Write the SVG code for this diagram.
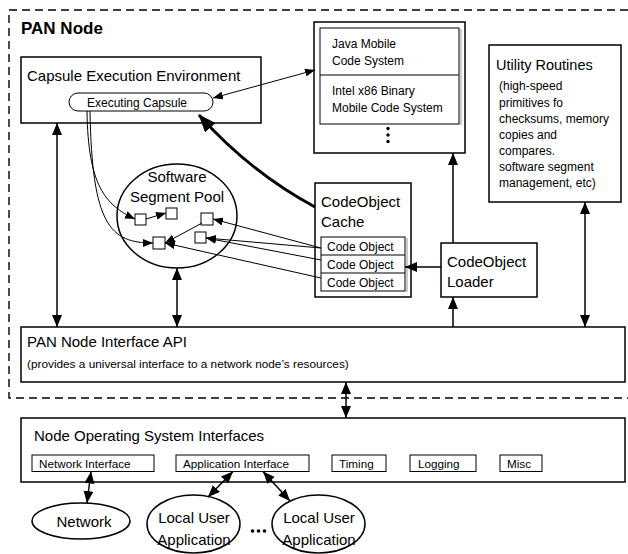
<svg xmlns="http://www.w3.org/2000/svg" width="628" height="554" viewBox="0 0 628 554">
  <style>
    text { font-family: "Liberation Sans", Arial, sans-serif; fill: #000; }
    .box { fill: #fff; stroke: #000; stroke-width: 1.5; }
    .inner { fill: #fff; stroke: #000; stroke-width: 1; }
    .shade { stroke: #9a9a9a; stroke-width: 1; }
    .dash { fill: none; stroke: #000; stroke-width: 1.4; stroke-dasharray: 8 5; }
    .title { font-size: 15px; }
    .t12 { font-size: 12px; }
    .tsub { font-size: 11.7px; }
    .wire { fill: none; stroke: #000; stroke-width: 1; }
    .bus { fill: none; stroke: #000; stroke-width: 1.5; }
    .heavy { fill: none; stroke: #000; stroke-width: 2.8; }
  </style>
  <defs>
    <marker id="big" markerUnits="userSpaceOnUse" markerWidth="12" markerHeight="12" refX="12" refY="5" orient="auto-start-reverse">
      <path d="M0,0 L12,5 L0,10 z" fill="#000"/>
    </marker>
    <marker id="small" markerUnits="userSpaceOnUse" markerWidth="10" markerHeight="8" refX="10" refY="4" orient="auto-start-reverse">
      <path d="M0,0 L10,4 L0,8 z" fill="#000"/>
    </marker>
    <marker id="heavyHead" markerUnits="userSpaceOnUse" markerWidth="18" markerHeight="14" refX="17" refY="7" orient="auto">
      <path d="M0,0 L18,7 L0,14 z" fill="#000"/>
    </marker>
  </defs>

  <rect width="628" height="554" fill="#fff"/>

  <!-- PAN node boundary -->
  <g id="pan-boundary">
    <path class="dash" d="M628,10 H9 V398 H628"/>
    <text x="21" y="34" font-size="17" font-weight="bold">PAN Node</text>
  </g>

  <g id="capsule-env">
    <rect class="box" x="21" y="57" width="240" height="66"/>
    <text class="title" x="27" y="81">Capsule Execution Environment</text>
  </g>

  <g id="executing-capsule">
    <rect class="inner" x="69" y="93" width="144" height="18" rx="9" ry="9"/>
    <text class="t12" x="137" y="106.5" text-anchor="middle">Executing Capsule</text>
  </g>

  <g id="code-systems">
    <rect class="box" x="314" y="22" width="151" height="131"/>
    <rect class="inner" x="320" y="28" width="139" height="96"/>
    <line class="shade" x1="461" y1="29" x2="461" y2="125"/>
    <line x1="320" y1="75" x2="459" y2="75" stroke="#000" stroke-width="1"/>
    <text class="t12" x="332" y="48">Java Mobile</text>
    <text class="t12" x="332" y="65">Code System</text>
    <text class="t12" x="332" y="95">Intel x86 Binary</text>
    <text class="t12" x="332" y="112">Mobile Code System</text>
    <circle cx="388" cy="128.5" r="1.7"/>
    <circle cx="388" cy="135" r="1.7"/>
    <circle cx="388" cy="141.5" r="1.7"/>
  </g>

  <g id="utility-routines">
    <rect class="box" x="489" y="45" width="132" height="157"/>
    <text x="496" y="70" font-size="14.5">Utility Routines</text>
    <text class="t12" x="499" y="90">(high-speed</text>
    <text class="t12" x="499" y="106.5">primitives fo</text>
    <text class="t12" x="499" y="122.5">checksums, memory</text>
    <text class="t12" x="499" y="138.5">copies and</text>
    <text class="t12" x="499" y="154.5">compares.</text>
    <text class="t12" x="499" y="170.5">software segment</text>
    <text class="t12" x="499" y="187">management, etc)</text>
  </g>

  <g id="segment-pool">
    <ellipse class="box" cx="177" cy="216" rx="60" ry="52"/>
    <text class="title" x="177" y="182" text-anchor="middle">Software</text>
    <text class="title" x="177" y="202" text-anchor="middle">Segment Pool</text>
    <rect class="inner" x="135" y="214" width="11" height="11"/>
    <rect class="inner" x="166" y="208" width="11" height="11"/>
    <rect class="inner" x="201" y="213" width="12" height="12"/>
    <rect class="inner" x="195" y="232" width="11" height="11"/>
    <rect class="inner" x="153" y="237" width="12" height="12"/>
  </g>

  <g id="codeobject-cache">
    <rect class="box" x="315" y="183" width="96" height="114"/>
    <text class="title" x="321" y="207">CodeObject</text>
    <text class="title" x="321" y="227">Cache</text>
    <rect class="inner" x="321" y="237" width="84" height="54"/>
    <line class="shade" x1="407" y1="238" x2="407" y2="292"/>
    <line x1="321" y1="255" x2="405" y2="255" stroke="#000" stroke-width="1"/>
    <line x1="321" y1="273" x2="405" y2="273" stroke="#000" stroke-width="1"/>
    <text class="t12" x="327" y="250.5">Code Object</text>
    <text class="t12" x="327" y="268.5">Code Object</text>
    <text class="t12" x="327" y="286.5">Code Object</text>
  </g>

  <g id="codeobject-loader">
    <rect class="box" x="441" y="243" width="96" height="54"/>
    <text class="title" x="447" y="267">CodeObject</text>
    <text class="title" x="447" y="286.5">Loader</text>
  </g>

  <g id="interface-api">
    <rect class="box" x="21" y="327" width="604" height="55"/>
    <text class="title" x="27" y="347">PAN Node Interface API</text>
    <text x="27" y="368" font-size="11.8">(provides a universal interface to a network node’s resources)</text>
  </g>

  <g id="os-interfaces">
    <rect class="box" x="21" y="418" width="604" height="64"/>
    <text class="title" x="34" y="441">Node Operating System Interfaces</text>
    <rect class="inner" x="32" y="455" width="122" height="16.5"/>
    <text class="tsub" x="39" y="467.5">Network Interface</text>
    <rect class="inner" x="176" y="455" width="133" height="16.5"/>
    <text class="tsub" x="183" y="467.5">Application Interface</text>
    <rect class="inner" x="332" y="455" width="54" height="16.5"/>
    <text class="tsub" x="339" y="467.5">Timing</text>
    <rect class="inner" x="410" y="455" width="66" height="16.5"/>
    <text class="tsub" x="418" y="467.5">Logging</text>
    <rect class="inner" x="500" y="455" width="42" height="16.5"/>
    <text class="tsub" x="507" y="467.5">Misc</text>
  </g>

  <g id="network">
    <ellipse class="box" cx="81" cy="521" rx="49" ry="18"/>
    <text class="title" x="84" y="526.5" text-anchor="middle">Network</text>
  </g>

  <g id="local-app-1">
    <ellipse class="box" cx="193.5" cy="524" rx="46.5" ry="29"/>
    <text class="title" x="194" y="523" text-anchor="middle">Local User</text>
    <text class="title" x="194" y="545" text-anchor="middle">Application</text>
  </g>

  <g id="ellipsis">
    <circle cx="252.5" cy="531" r="1.8"/>
    <circle cx="258.5" cy="531" r="1.8"/>
    <circle cx="264.5" cy="531" r="1.8"/>
  </g>

  <g id="local-app-2">
    <ellipse class="box" cx="318.5" cy="524" rx="46.5" ry="29"/>
    <text class="title" x="319" y="523" text-anchor="middle">Local User</text>
    <text class="title" x="319" y="545" text-anchor="middle">Application</text>
  </g>

  <g id="connectors">
    <!-- executing capsule to code systems -->
    <line class="wire" x1="213" y1="98" x2="315" y2="70" marker-start="url(#small)" marker-end="url(#small)"/>
    <!-- cache feeds the executing capsule -->
    <path class="heavy" d="M315,207 Q250,172 199,115" marker-end="url(#heavyHead)"/>
    <!-- capsule into pool segments -->
    <path class="wire" d="M87,111 C88,185 105,205 135,219" marker-end="url(#small)"/>
    <path class="wire" d="M90,111 C92,225 110,243 153,243" marker-end="url(#small)"/>
    <line class="wire" x1="146" y1="219" x2="166" y2="213" marker-end="url(#small)"/>
    <line class="wire" x1="202" y1="223" x2="165" y2="243" marker-end="url(#small)"/>
    <!-- code objects into pool segments -->
    <line class="wire" x1="321" y1="248" x2="213" y2="219" marker-end="url(#small)"/>
    <line class="wire" x1="321" y1="248" x2="206" y2="238" marker-end="url(#small)"/>
    <line class="wire" x1="321" y1="260" x2="206" y2="238" marker-end="url(#small)"/>
    <line class="wire" x1="321" y1="278" x2="165" y2="243" marker-end="url(#small)"/>
    <!-- loader -->
    <line class="bus" x1="441" y1="267" x2="405" y2="267" marker-end="url(#big)"/>
    <line class="bus" x1="453" y1="243" x2="453" y2="153" marker-end="url(#big)"/>
    <line class="bus" x1="453" y1="327" x2="453" y2="297" marker-end="url(#big)"/>
    <!-- API links -->
    <line class="bus" x1="57" y1="123" x2="57" y2="327" marker-start="url(#big)" marker-end="url(#big)"/>
    <line class="bus" x1="177" y1="268" x2="177" y2="327" marker-start="url(#big)" marker-end="url(#big)"/>
    <line class="bus" x1="585" y1="202" x2="585" y2="327" marker-start="url(#big)" marker-end="url(#big)"/>
    <line class="bus" x1="346" y1="382" x2="346" y2="418" marker-start="url(#big)" marker-end="url(#big)"/>
    <!-- OS interfaces to outside -->
    <line class="bus" x1="91" y1="471.5" x2="87" y2="503" marker-start="url(#big)" marker-end="url(#big)"/>
    <line class="bus" x1="233" y1="471.5" x2="208" y2="497" marker-start="url(#big)" marker-end="url(#big)"/>
    <line class="bus" x1="263" y1="471.5" x2="290" y2="501" marker-start="url(#big)" marker-end="url(#big)"/>
  </g>
</svg>
